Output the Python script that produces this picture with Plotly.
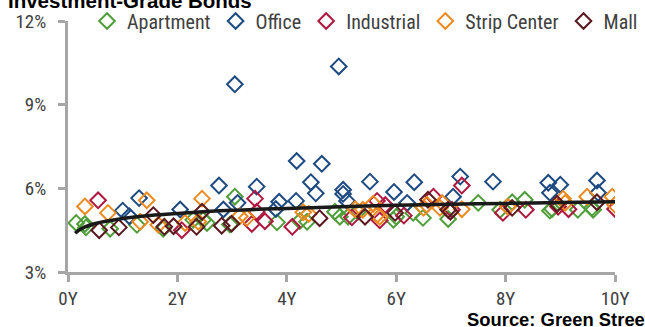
import plotly.graph_objects as go

# Spread (%) versus years to maturity, by property type
apartment_x = [0.15, 0.31, 0.33, 0.77, 1.26, 1.74, 2.29, 2.47, 2.54, 2.96, 3.05, 3.82, 4.24, 4.37,
               4.88, 4.97, 5.12, 5.30, 5.95, 6.00, 6.31, 6.49, 6.95, 7.50, 7.90, 8.12, 8.35, 8.81,
               8.85, 9.32, 9.58, 9.60]
apartment_y = [4.76, 4.72, 4.60, 4.55, 4.69, 4.55, 4.87, 4.87, 4.76, 4.70, 5.70, 4.78, 4.83, 4.80,
               5.16, 4.98, 4.98, 5.16, 4.87, 4.98, 5.12, 4.94, 4.90, 5.48, 5.23, 5.50, 5.59, 5.20,
               5.26, 5.23, 5.30, 5.23]

office_x = [1.00, 1.12, 1.30, 2.05, 2.76, 2.84, 3.05, 3.10, 3.45, 3.80, 3.86, 4.17, 4.18, 4.44,
            4.53, 4.64, 4.95, 5.03, 5.03, 5.10, 5.52, 5.96, 6.20, 6.33, 7.04, 7.17, 7.77, 8.78,
            8.81, 9.00, 9.67, 9.69]
office_y = [5.20, 5.00, 5.65, 5.24, 6.10, 5.24, 9.73, 5.48, 6.06, 5.26, 5.52, 5.55, 6.98, 6.22,
            5.82, 6.88, 10.37, 5.95, 5.80, 5.55, 6.24, 5.87, 5.48, 6.22, 5.70, 6.42, 6.24, 6.20,
            5.84, 6.13, 6.28, 5.84]

industrial_x = [0.55, 2.08, 3.36, 3.42, 3.45, 3.60, 4.10, 5.19, 5.65, 5.80, 5.70, 6.14, 6.68, 7.02,
                7.20, 7.95, 8.37, 8.96, 9.15, 10.00]
industrial_y = [5.57, 4.50, 4.72, 5.63, 5.16, 4.82, 4.62, 4.96, 5.55, 5.40, 4.85, 5.02, 5.70, 5.23,
                6.10, 5.12, 5.23, 5.34, 5.25, 5.26]

strip_x = [0.31, 0.73, 1.32, 1.44, 1.65, 2.14, 2.38, 2.45, 3.14, 3.27, 4.30, 4.40, 5.25, 5.39,
           5.58, 5.65, 5.70, 6.50, 6.56, 6.80, 6.84, 7.20, 8.04, 9.05, 9.09, 9.49, 9.95, 10.00]
strip_y = [5.35, 5.12, 4.80, 5.57, 4.69, 4.76, 4.80, 5.63, 5.00, 4.94, 5.14, 5.08, 5.25, 5.23,
           5.45, 5.05, 4.98, 5.30, 5.41, 5.30, 5.48, 5.25, 5.34, 5.63, 5.48, 5.70, 5.70, 5.41]

mall_x = [0.57, 0.93, 1.56, 1.76, 1.93, 2.35, 2.45, 2.81, 2.99, 4.60, 5.43, 5.98, 6.58, 6.95,
          6.99, 8.12, 8.94, 9.67]
mall_y = [4.50, 4.60, 5.04, 4.62, 4.64, 4.62, 5.16, 4.66, 4.73, 4.93, 4.98, 5.12, 5.59, 5.23,
          5.16, 5.30, 5.45, 5.50]

# Logarithmic trend line across all property types
trend_x = [0.13, 0.25, 0.5, 1, 1.5, 2, 3, 4, 5, 6, 7, 8, 9, 10]
trend_y = [4.39, 4.56, 4.74, 4.92, 5.03, 5.10, 5.21, 5.28, 5.34, 5.39, 5.43, 5.46, 5.49, 5.52]

series = [
    ("Apartment", apartment_x, apartment_y, "#4f9e3a"),
    ("Office", office_x, office_y, "#1d4a80"),
    ("Industrial", industrial_x, industrial_y, "#b0183f"),
    ("Strip Center", strip_x, strip_y, "#ec8a1f"),
    ("Mall", mall_x, mall_y, "#5a1820"),
]

x_ticks = [0, 2, 4, 6, 8, 10]
x_labels = ["0Y", "2Y", "4Y", "6Y", "8Y", "10Y"]
y_ticks = [3, 6, 9, 12]
y_labels = ["3%", "6%", "9%", "12%"]

FONT = "Roboto Condensed, Liberation Sans Narrow, Arial Narrow, sans-serif"
BOLD_FONT = "Liberation Sans, Arial, sans-serif"
AXIS_GRAY = "#a6a6a6"
TEXT_GRAY = "#404040"

# Page geometry (pixels): axes span x 68..615 and y 21..272
W, H = 645, 327
M_L, M_R, M_T, M_B = 68, 0, 0, 55
PLOT_TOP, PLOT_RIGHT = 21, 615
area_h = H - M_T - M_B
area_w = W - M_L - M_R
y_top = (H - M_B - PLOT_TOP) / area_h
x_right = (PLOT_RIGHT - M_L) / area_w


def px_x(p):
    return (p - M_L) / area_w


def px_y(p):
    return (H - M_B - p) / area_h


fig = go.Figure()
for name, xs, ys, color in series:
    fig.add_trace(go.Scatter(
        x=xs, y=ys, mode="markers", name=name,
        marker=dict(symbol="diamond-open", size=12, color=color, line=dict(width=2, color=color)),
    ))

fig.add_trace(go.Scatter(
    x=trend_x, y=trend_y, mode="lines", showlegend=False, hoverinfo="skip",
    line=dict(color="#1a1a1a", width=3.5, shape="spline"),
))

fig.update_layout(
    width=W, height=H,
    margin=dict(l=M_L, r=M_R, t=M_T, b=M_B, autoexpand=False),
    paper_bgcolor="white", plot_bgcolor="white",
    font=dict(family=FONT, size=18, color=TEXT_GRAY),
    legend=dict(
        orientation="h", x=px_x(87), xanchor="left", y=y_top, yanchor="middle",
        font=dict(family=FONT, size=20, color=TEXT_GRAY),
        bgcolor="rgba(0,0,0,0)", itemwidth=30,
    ),
    xaxis=dict(
        range=[0, 10], tickvals=x_ticks, ticktext=x_labels, domain=[0, x_right], automargin=False,
        showgrid=False, zeroline=False,
        showline=True, linecolor=AXIS_GRAY, linewidth=3,
        ticks="outside", ticklen=7, tickwidth=3, tickcolor=AXIS_GRAY,
        tickfont=dict(family=FONT, size=19, color=TEXT_GRAY),
    ),
    yaxis=dict(
        range=[3, 12], tickvals=y_ticks, ticktext=y_labels, domain=[0, y_top], automargin=False,
        showgrid=False, zeroline=False,
        showline=True, linecolor=AXIS_GRAY, linewidth=3,
        ticks="outside", ticklen=7, tickwidth=3, tickcolor=AXIS_GRAY,
        tickfont=dict(family=FONT, size=19, color=TEXT_GRAY),
        ticklabelstandoff=8,
    ),
    annotations=[
        dict(text="<b>Investment-Grade Bonds</b>", xref="paper", yref="paper",
             x=px_x(6), y=px_y(14), xanchor="left", yanchor="bottom",
             showarrow=False, font=dict(family=BOLD_FONT, size=20.5, color="#000000")),
        dict(text="<b>Source: Green Street</b>", xref="paper", yref="paper",
             x=px_x(465), y=px_y(319), xanchor="left", yanchor="middle",
             showarrow=False, font=dict(family=BOLD_FONT, size=18.4, color="#000000")),
    ],
)

fig.write_html("out.html")
